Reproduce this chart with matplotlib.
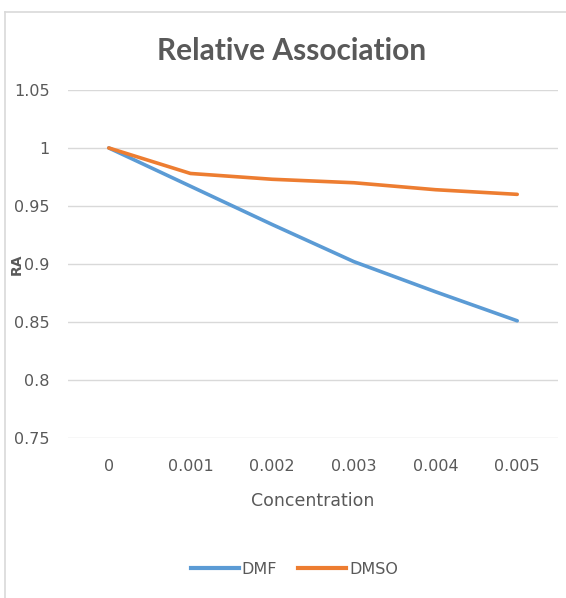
import matplotlib.pyplot as plt
from matplotlib.lines import Line2D

concentration = ["0", "0.001", "0.002", "0.003", "0.004", "0.005"]
dmf = [1.0, 0.967, 0.934, 0.902, 0.876, 0.851]
dmso = [1.0, 0.978, 0.973, 0.970, 0.964, 0.960]

gray = "#595959"
plt.rcParams['font.family'] = ['DejaVu Sans']

fig = plt.figure(figsize=(5.66, 5.98), dpi=100)
ax = fig.add_axes([0.120, 0.2676, 0.866, 0.582])

x = range(len(concentration))
ax.plot(x, dmf, color="#5B9BD5", lw=2.6, solid_capstyle="round", label="DMF", zorder=3)
ax.plot(x, dmso, color="#ED7D31", lw=2.6, solid_capstyle="round", label="DMSO", zorder=3)

ax.set_xlim(-0.5, len(concentration) - 0.5)
ax.set_ylim(0.75, 1.05)
ax.set_yticks([0.75, 0.8, 0.85, 0.9, 0.95, 1.0, 1.05])
ax.set_yticklabels(["0.75", "0.8", "0.85", "0.9", "0.95", "1", "1.05"])
ax.set_xticks(list(x))
ax.set_xticklabels(concentration)
ax.tick_params(length=0, colors=gray, labelsize=11.5)
ax.tick_params(axis="x", pad=15)
ax.tick_params(axis="y", pad=13)
ax.grid(axis="y", color="#D9D9D9", lw=1)
for s in ax.spines.values():
    s.set_visible(False)

ax.set_xlabel("Concentration", color=gray, fontsize=12.5, labelpad=13)
fig.text(0.029, 0.5585, "RA", rotation=90, color=gray, fontsize=10, fontweight="bold",
         ha="center", va="center")
fig.text(0.515, 0.914, "Relative Association", color=gray, fontsize=21.5, fontweight="bold",
         family=["Lato", "DejaVu Sans"], ha="center", va="center")

handles = [Line2D([], [], color="#5B9BD5", lw=3), Line2D([], [], color="#ED7D31", lw=3)]
fig.legend(handles, ["DMF", "DMSO"], loc="center", bbox_to_anchor=(0.52, 0.048),
           ncol=2, frameon=False, handlelength=3.0, handletextpad=0.2, columnspacing=1.3,
           labelcolor=gray, prop={"size": 11.5})

# chart frame (left and top edges visible)
fig.add_artist(Line2D([0.009, 0.009], [0.0, 0.980], color="#D9D9D9", lw=1.2))
fig.add_artist(Line2D([0.009, 1.0], [0.980, 0.980], color="#D9D9D9", lw=1.2))

fig.savefig("out.png", dpi=100)
